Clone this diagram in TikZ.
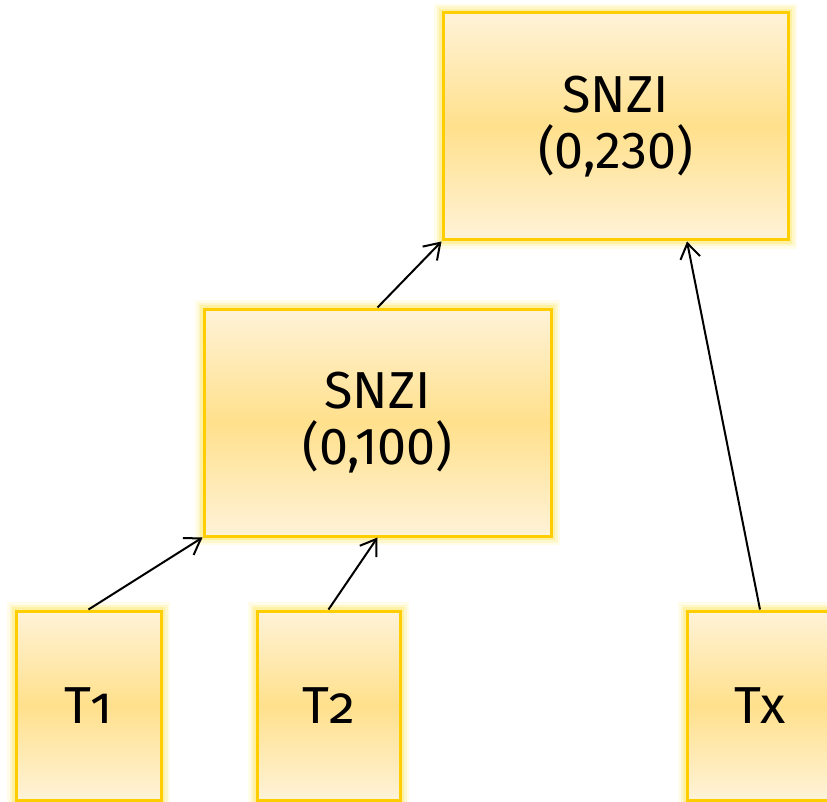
\documentclass[tikz,border=0pt]{standalone}
\usepackage{fontspec}
\setmainfont{Fira Sans}
\newfontfamily\oldnum[Numbers=OldStyle]{Fira Sans}
\usetikzlibrary{arrows.meta}
\definecolor{boxlight}{RGB}{255,243,216}
\definecolor{boxmid}{RGB}{255,224,140}
\definecolor{boxedge}{RGB}{255,206,0}
\definecolor{boxglow}{RGB}{255,222,40}
\tikzset{
  gbox/.style={rectangle, draw=boxedge, line width=3pt,
    top color=boxlight, bottom color=boxlight, middle color=boxmid,
    preaction={draw=boxglow, line width=18pt, draw opacity=0.10},
    preaction={draw=boxglow, line width=13pt, draw opacity=0.15},
    preaction={draw=boxglow, line width=8pt, draw opacity=0.25},
    align=center, inner sep=0pt,
    font=\fontsize{52}{56}\selectfont},
  conn/.style={draw=black, line width=2pt,
    -{Straight Barb[length=15pt,width=20pt,line width=2pt]}}
}
\begin{document}
\begin{tikzpicture}[x=1pt,y=-1pt]
\useasboundingbox (0,0) rectangle (827,802);
\node[gbox, minimum width=345pt, minimum height=227pt] (top) at (615.5,126.5) {SNZI\\(0,230)};
\node[gbox, minimum width=347pt, minimum height=227pt] (mid) at (377.5,422.5) {SNZI\\(0,100)};
\node[gbox, minimum width=145pt, minimum height=189pt] (t1) at (88.5,705.5) {T{\oldnum 1}};
\node[gbox, minimum width=143pt, minimum height=189pt] (t2) at (328.5,705.5) {T{\oldnum 2}};
\node[gbox, minimum width=146pt, minimum height=189pt] (tx) at (760,705.5) {Tx};
\coordinate (topin) at ([xshift=71.5pt]top.south);
\draw[conn] (mid.north) -- (top.south west);
\draw[conn] (t1.north) -- (mid.south west);
\draw[conn] (t2.north) -- (mid.south);
\draw[conn] (tx.north) -- (topin);
\end{tikzpicture}
\end{document}
